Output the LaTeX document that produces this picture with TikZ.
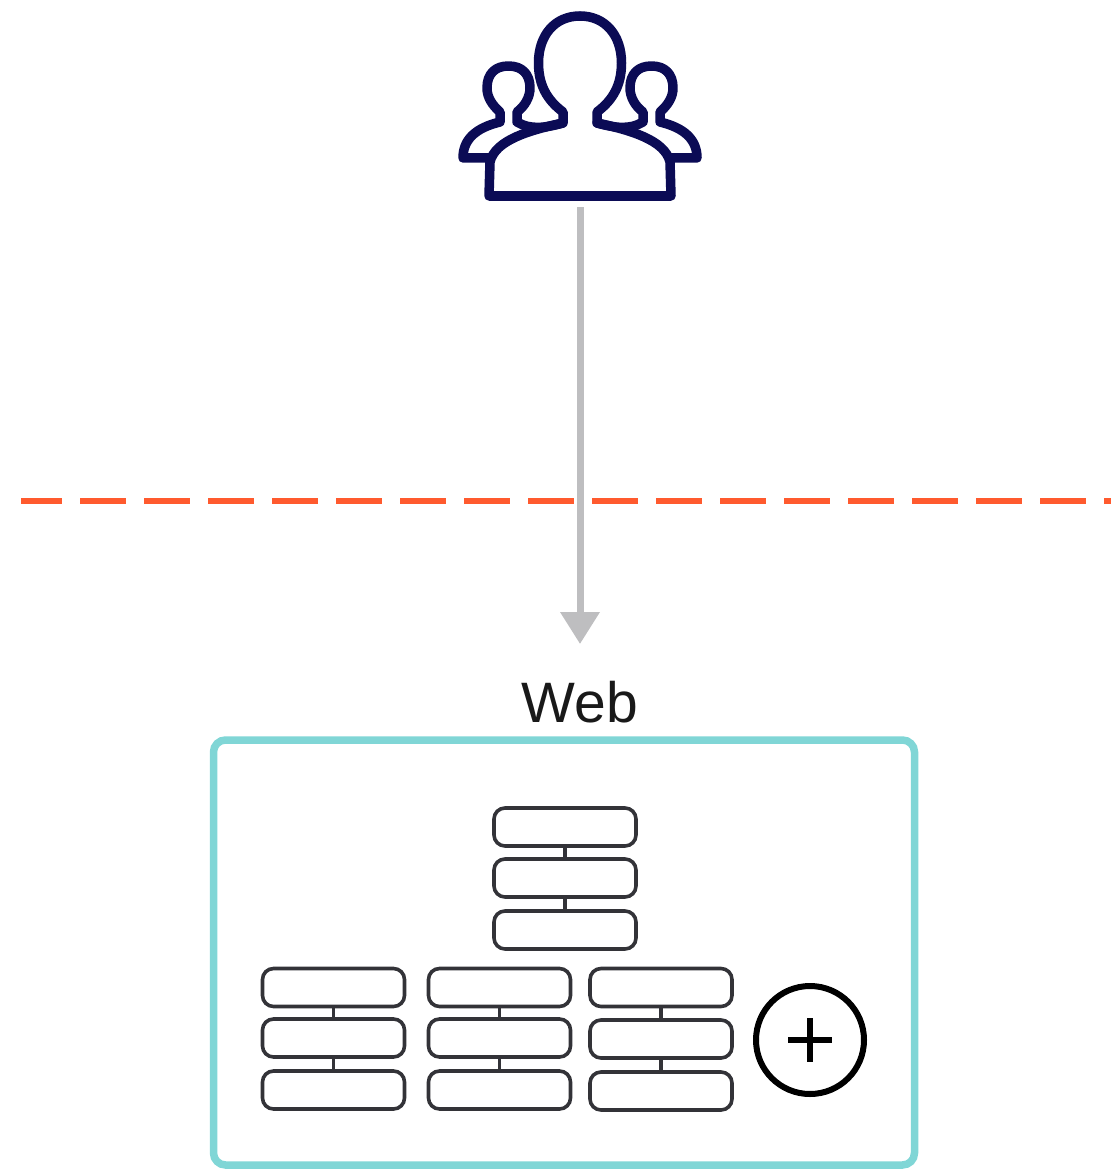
\documentclass[tikz,border=0pt]{standalone}
\usepackage{fontspec}
\setmainfont{Liberation Sans}
\usetikzlibrary{arrows.meta}
\definecolor{usernavy}{HTML}{0B0B55}
\definecolor{flowgray}{HTML}{BEBEC0}
\definecolor{borderred}{HTML}{FF5A2E}
\definecolor{webteal}{HTML}{80D6D6}
\definecolor{pilldark}{HTML}{333338}
\tikzset{
    pill/.style={draw=pilldark, line width=3.6pt, rounded corners=11pt, minimum width=142pt, minimum height=38pt, inner sep=0pt},
    pilllink/.style={draw=pilldark, line width=3.6pt},
    iconline/.style={draw=usernavy, line width=9.5pt, line join=round, line cap=round},
    flow/.style={draw=flowgray, line width=7pt, -{Triangle[width=38pt, length=32pt, color=flowgray]}}
}

\begin{document}
\begin{tikzpicture}[x=1pt, y=-1pt]
    \useasboundingbox (0,0) rectangle (1111,1169);

    % Trust boundary
    \coordinate (borderleft) at (21,501);
    \coordinate (borderright) at (1111,501);
    \draw[borderred, line width=6pt, dash pattern=on 46pt off 18pt, dash phase=5pt] (borderleft) -- (borderright);

    % Users icon -- one half drawn twice, mirrored
    \foreach \sgn in {1,-1} {
        \begin{scope}[shift={(580,0)}, xscale=\sgn]
            \draw[iconline] (0,16) .. controls (-25,16) and (-41.5,35) .. (-41.5,63)
                .. controls (-41.5,85) and (-33,100) .. (-17,112) -- (-17,123)
                .. controls (-50,130) and (-85,140) .. (-90,162) -- (-91,196) -- (0,196);
            \draw[iconline] (-90,158) -- (-117,158) .. controls (-117,140) and (-105,128) .. (-80,122)
                -- (-80,112) .. controls (-88,105) and (-93,97) .. (-93,88)
                .. controls (-93,74) and (-85,66) .. (-71.5,66)
                .. controls (-58,66) and (-50,74) .. (-50,88)
                .. controls (-50,97) and (-55,106) .. (-63,112) -- (-63,122)
                .. controls (-50,130) and (-35,128) .. (-17,123);
        \end{scope}
    }
    \coordinate (users) at (580,207);

    % Web label and box
    \node[font=\fontsize{57}{57}\selectfont, text=black!90, inner sep=0pt, anchor=base] (web) at (580,722) {Web};
    \coordinate (webtop) at (580,644);
    \node[draw=webteal, line width=7.5pt, rounded corners=12pt, minimum width=701pt, minimum height=425pt, inner sep=0pt] (webbox) at (564,952.5) {};

    % Arrow
    \draw[flow] (users) -- (webtop);

    % Pill stacks
    \foreach \name/\px/\pa/\pb/\pc in {top/565/827/878/930, left/333.5/987.5/1038/1090, mid/499.5/987.5/1038/1090, right/661/987.5/1039/1091} {
        \node[pill] (\name1) at (\px,\pa) {};
        \node[pill] (\name2) at (\px,\pb) {};
        \node[pill] (\name3) at (\px,\pc) {};
        \draw[pilllink] (\name1) -- (\name2);
        \draw[pilllink] (\name2) -- (\name3);
    }

    % Plus
    \node[circle, draw=black, line width=6pt, minimum size=108pt, inner sep=0pt] (plus) at (810,1040) {};
    \draw[black, line width=6pt] (plus.center) ++(-22,0) -- ++(44,0);
    \draw[black, line width=6pt] (plus.center) ++(0,-22) -- ++(0,44);
\end{tikzpicture}
\end{document}
